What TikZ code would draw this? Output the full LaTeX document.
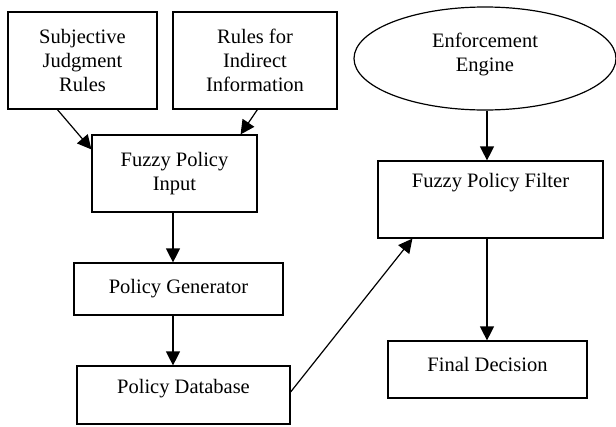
\documentclass[tikz,border=0pt]{standalone}
\usepackage{fontspec}
\setmainfont{Liberation Serif}
\usetikzlibrary{shapes.geometric,arrows.meta}
\begin{document}
\begin{tikzpicture}[x=1pt,y=-1pt,
  every node/.style={font=\fontsize{20.5}{24}\selectfont, align=center},
  box/.style={draw, line width=1.2pt, rectangle, inner sep=0pt},
  txt/.style={inner sep=0pt},
  conn/.style={line width=1.2pt, -{Triangle[length=14pt,width=14pt]}}]
\useasboundingbox (0,0) rectangle (616,426);
% boxes
\node[box, minimum width=149pt, minimum height=97pt] (sjr) at (82.5,60.5) {Subjective\\Judgment\\Rules};
\node[box, minimum width=164pt, minimum height=97pt] (rii) at (255,60.5) {Rules for\\Indirect\\Information};
\node[box, minimum width=165pt, minimum height=77pt] (inp) at (174.5,173.5) {Fuzzy Policy\\Input};
\node[box, minimum width=209pt, minimum height=52pt] (gen) at (178.5,289) {Policy Generator};
\node[box, minimum width=213pt, minimum height=58pt] (db) at (183.5,395) {};
\node[txt] (dbtext) at (183.5,389) {Policy Database};
\node[box, minimum width=225pt, minimum height=77pt] (filter) at (490.5,199.5) {};
\node[txt] (filtertext) at (490.5,183) {Fuzzy Policy Filter};
\node[box, minimum width=199pt, minimum height=57pt] (final) at (487.5,369.5) {};
\node[txt] (finaltext) at (487.5,364) {Final Decision};
\node[draw, line width=1.2pt, ellipse, inner sep=0pt, minimum width=262pt, minimum height=103pt] (eng) at (485,58.5) {};
\node[txt] (engtext) at (485,54) {Enforcement\\Engine};
% connectors
\draw[conn] ([xshift=50pt]sjr.south west) -- ([yshift=-15pt]inp.north west);
\draw[conn] ([xshift=85pt]rii.south west) -- ([xshift=-17pt]inp.north east);
\draw[conn] ([xshift=-1.5pt]inp.south) -- ([xshift=-1.5pt]inp.south |- gen.north);
\draw[conn] ([xshift=-1.5pt]inp.south |- gen.south) -- ([xshift=-1.5pt]inp.south |- db.north);
\draw[conn] ([yshift=3pt]db.east) -- ([xshift=35pt]filter.south west);
\draw[conn] ([xshift=2pt]eng.south) -- ([xshift=2pt]eng.south |- filter.north);
\draw[conn] ([xshift=-3.5pt]filter.south) -- ([xshift=-3.5pt]filter.south |- final.north);
\end{tikzpicture}
\end{document}
